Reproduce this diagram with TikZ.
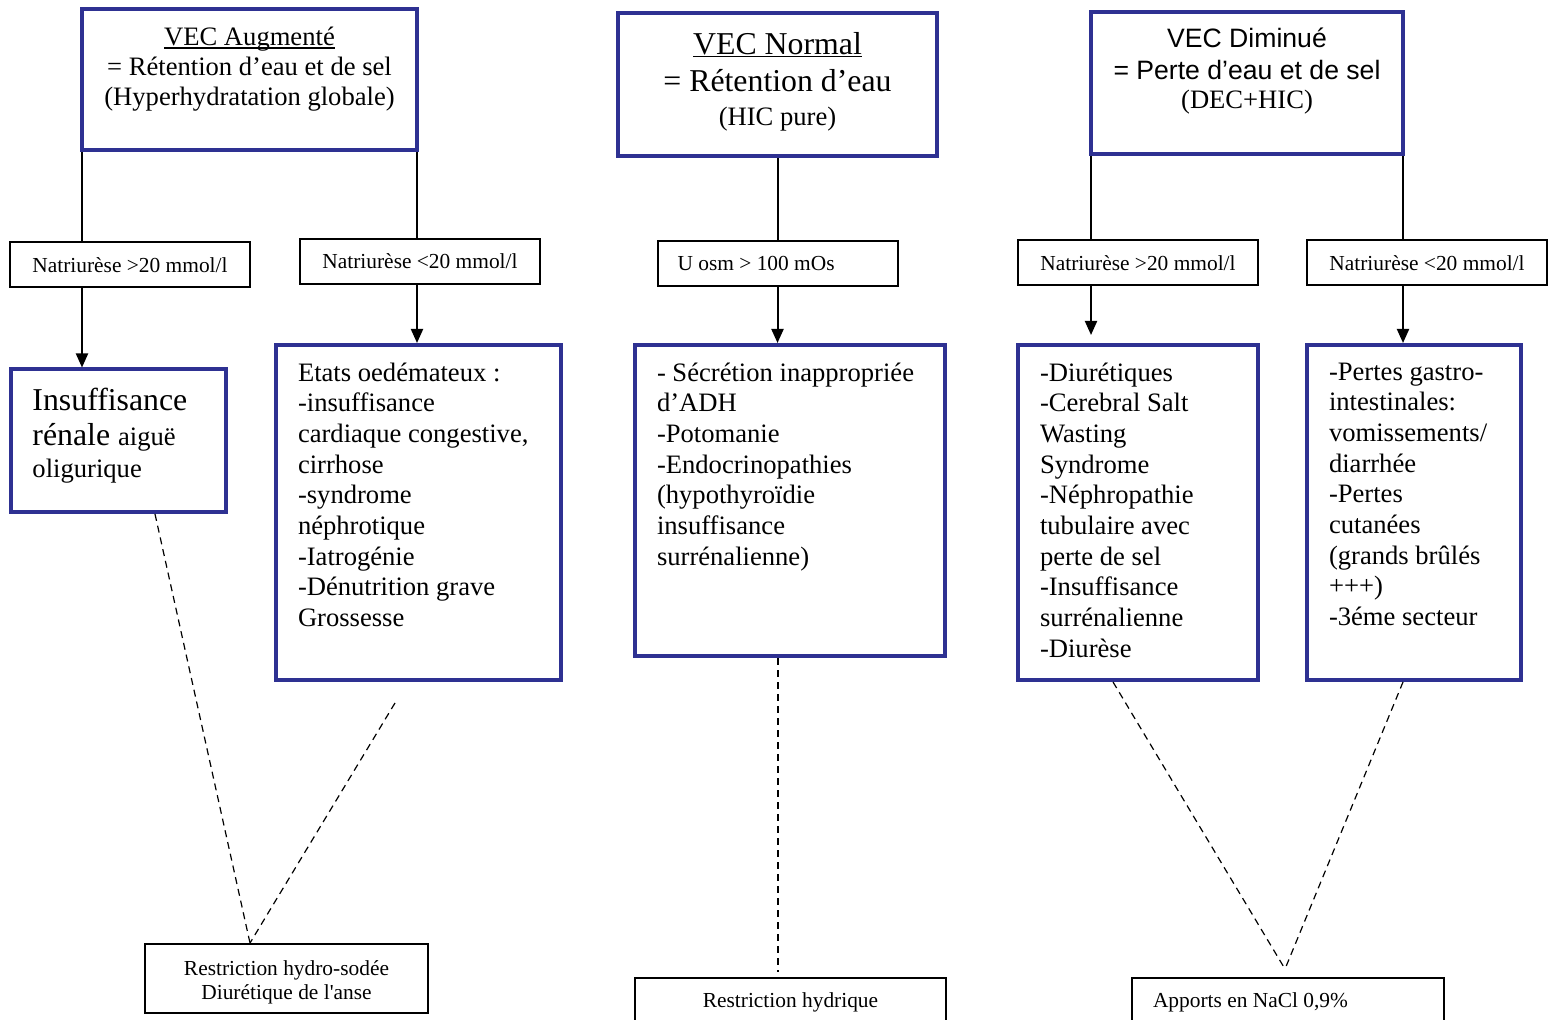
\documentclass[tikz,border=0pt]{standalone}
\usepackage{fontspec}
\setmainfont{Liberation Serif}
\setsansfont{Liberation Sans}
\usepackage{tikz}
\usetikzlibrary{arrows.meta}
\definecolor{bordbleu}{RGB}{46,49,146}
\newsavebox{\soulbox}
\newcommand{\souligne}[1]{\leavevmode\sbox{\soulbox}{#1}\rlap{\rule[-1.6pt]{\wd\soulbox}{0.6pt}}\usebox{\soulbox}}
\tikzstyle{vecbox} = [draw=bordbleu, line width=2pt, rectangle,
    inner xsep=5pt, inner ysep=9pt, font=\fontsize{13.3}{15}\selectfont]
\tikzstyle{causebox} = [draw=bordbleu, line width=2pt, rectangle,
    inner xsep=11pt, inner ysep=8.8pt, font=\fontsize{13.3}{15.35}\selectfont]
\tikzstyle{critere} = [draw=black, line width=1pt, rectangle, inner sep=0pt,
    minimum width=120pt, minimum height=22.5pt, font=\fontsize{10.7}{12}\selectfont]
\tikzstyle{traitbox} = [draw=black, line width=1pt, rectangle, inner sep=0pt,
    align=center, font=\fontsize{10.7}{12}\selectfont]
\tikzstyle{trait} = [line width=1pt]
\tikzstyle{fleche} = [line width=1pt, -{Triangle[length=7pt,width=6pt]}]
\tikzstyle{pointille} = [line width=0.6pt, dash pattern=on 3.5pt off 2.5pt]

\begin{document}
\begin{tikzpicture}[x=0.5pt,y=-0.5pt]
\clip (0,0) rectangle (1556,1020);
% les trois situations
\node [vecbox] (augm) at (249.5,79.5) {
    \begin{minipage}[t][52.5pt][t]{157.5pt}\centering
    \souligne{VEC Augmenté}\\
    = Rétention d’eau et de sel\\
    (Hyperhydratation globale)
    \end{minipage}
};
\node [vecbox, inner ysep=9.6pt, font=\fontsize{15.9}{18.8}\selectfont] (normal) at (777.5,84.75) {
    \begin{minipage}[t][52.55pt][t]{149.5pt}\centering
    \souligne{VEC Normal}\\
    = Rétention d’eau\\[-2pt]
    {\fontsize{13.3}{15}\selectfont (HIC pure)}
    \end{minipage}
};
\node [vecbox, inner ysep=8.1pt, font=\fontsize{13.3}{15.8}\selectfont] (dimin) at (1247,83) {
    \begin{minipage}[t][54.8pt][t]{146pt}\centering
    {\sffamily VEC Diminué\\
    = Perte d’eau et de sel}\\[-1.3pt]
    (DEC+HIC)
    \end{minipage}
};
% criteres
\node [critere] (natsup) at (130,265) {Natriurèse >20 mmol/l};
\node [critere] (natinf) at (420,261.25) {Natriurèse <20 mmol/l};
\node [critere, text width=100pt, inner xsep=10pt, align=flush left] (uosm) at (777.5,263.5) {U osm > 100 mOs};
\node [critere] (natsupd) at (1138,263) {Natriurèse >20 mmol/l};
\node [critere] (natinfd) at (1427,263) {Natriurèse <20 mmol/l};
% causes
\node [causebox, inner ysep=9.4pt] (ira) at (118,440.75) {
    \begin{minipage}[t][52.45pt][t]{85.5pt}\raggedright
    \fontsize{15.9}{17.5}\selectfont Insuffisance\\
    rénale {\fontsize{13.3}{17.5}\selectfont aiguë\\[-1.7pt]
    oligurique}
    \end{minipage}
};
\node [causebox] (oedeme) at (418.5,512.5) {
    \begin{minipage}[t][149.9pt][t]{120.5pt}\raggedright
    Etats oedémateux :\\
    -insuffisance\\
    cardiaque congestive,\\
    cirrhose\\
    -syndrome\\
    néphrotique\\
    -Iatrogénie\\
    -Dénutrition grave\\
    Grossesse
    \end{minipage}
};
\node [causebox] (siadh) at (790,500.5) {
    \begin{minipage}[t][137.9pt][t]{133pt}\raggedright
    - Sécrétion inappropriée\\
    d’ADH\\
    -Potomanie\\
    -Endocrinopathies\\
    (hypothyroïdie\\
    insuffisance\\
    surrénalienne)
    \end{minipage}
};
\node [causebox] (diuret) at (1138,512.5) {
    \begin{minipage}[t][149.9pt][t]{98pt}\raggedright
    -Diurétiques\\
    -Cerebral Salt\\
    Wasting\\
    Syndrome\\
    -Néphropathie\\
    tubulaire avec\\
    perte de sel\\
    -Insuffisance\\
    surrénalienne\\
    -Diurèse
    \end{minipage}
};
\node [causebox] (pertes) at (1414,512.5) {
    \begin{minipage}[t][149.9pt][t]{85pt}\raggedright
    -Pertes gastro-\\
    intestinales:\\
    vomissements/\\
    diarrhée\\
    -Pertes\\
    cutanées\\
    (grands brûlés\\
    +++)\\
    -3éme secteur
    \end{minipage}
};
% traitements
\node [traitbox, minimum width=141.5pt, minimum height=34.5pt] (restrsod) at (286.5,978.5)
    {\rule{0pt}{11pt}Restriction hydro-sodée\\ Diurétique de l\textquotesingle anse};
\node [traitbox, minimum width=155.5pt, minimum height=23pt] (restrhyd) at (790.5,1001)
    {\rule{0pt}{9pt}Restriction hydrique};
\node [traitbox, text width=135pt, inner xsep=10.5pt, minimum height=23pt, align=flush left] (apports) at (1288,1001)
    {\rule{0pt}{9pt}Apports en NaCl 0,9\%};
% liaisons
\coordinate (xa1) at ([xshift=1pt]augm.south west);
\coordinate (xa2) at ([xshift=-1pt]augm.south east);
\coordinate (xd1) at ([xshift=1pt]dimin.south west);
\coordinate (xd2) at ([xshift=-1pt]dimin.south east);
\draw [trait] (xa1) -- (xa1 |- natsup.north);
\draw [fleche] (natsup.south -| xa1) -- (ira.north -| xa1);
\draw [trait] (xa2) -- (xa2 |- natinf.north);
\draw [fleche] (natinf.south -| xa2) -- (oedeme.north -| xa2);
\draw [trait] (normal.south) -- (uosm.north);
\draw [fleche] (uosm.south) -- (siadh.north -| uosm.south);
\draw [trait] (xd1) -- (xd1 |- natsupd.north);
\draw [fleche, shorten >=4pt] (natsupd.south -| xd1) -- (diuret.north -| xd1);
\draw [trait] (xd2) -- (xd2 |- natinfd.north);
\draw [fleche] (natinfd.south -| xd2) -- (pertes.north -| xd2);
% pointilles vers les traitements
\coordinate (oedfin) at (395,703);
\coordinate (hydfin) at (778,972);
\coordinate (naclfin) at (1285,969);
\draw [pointille] ([xshift=18.5pt]ira.south) -- ([xshift=-18.25pt]restrsod.north);
\draw [pointille] (oedfin) -- ([xshift=-18.25pt]restrsod.north);
\draw [pointille] ([xshift=-6pt]siadh.south) -- (hydfin);
\draw [pointille] ([xshift=-12.5pt]diuret.south) -- (naclfin);
\draw [pointille] ([xshift=-5.5pt]pertes.south) -- (naclfin);
\end{tikzpicture}
\end{document}
